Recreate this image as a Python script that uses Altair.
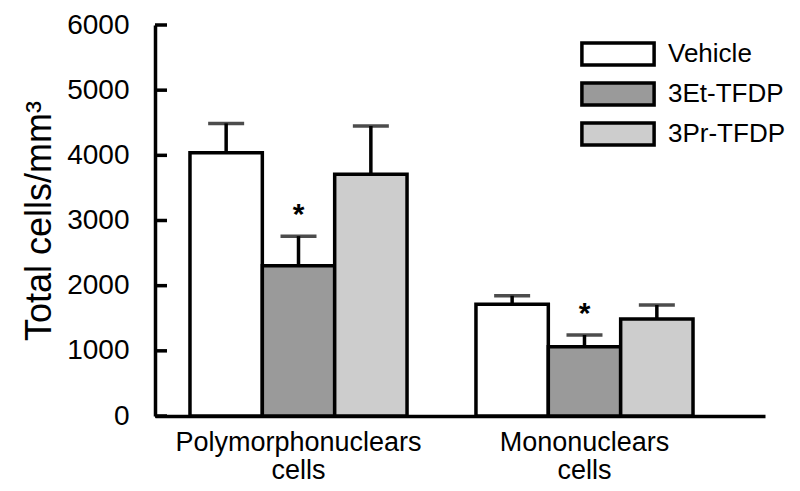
import altair as alt
import pandas as pd

groups = ["Polymorphonuclears|cells", "Mononuclears|cells"]
treatments = ["Vehicle", "3Et-TFDP", "3Pr-TFDP"]
colors = ["#ffffff", "#9a9a9a", "#cdcdcd"]

pmn_mean = [4040, 2305, 3710]
pmn_err = [450, 455, 740]
mono_mean = [1715, 1063, 1488]
mono_err = [130, 180, 215]
pmn_sig = [False, True, False]
mono_sig = [False, True, False]

y_ticks = [0, 1000, 2000, 3000, 4000, 5000, 6000]

rows = []
for g, means, errs, sigs in [(groups[0], pmn_mean, pmn_err, pmn_sig),
                             (groups[1], mono_mean, mono_err, mono_sig)]:
    for t, m, e, s in zip(treatments, means, errs, sigs):
        rows.append({"group": g, "treatment": t, "mean": m, "top": m + e,
                     "sig": s, "star": "*" if s else ""})
df = pd.DataFrame(rows)
ticks_df = pd.DataFrame({"v": y_ticks})

FONT = "Liberation Sans"

x_enc = alt.X("group:N", sort=groups,
              scale=alt.Scale(paddingInner=0.241, paddingOuter=0.187, align=0.327),
              axis=alt.Axis(title=None, labelExpr="split(datum.label, '|')",
                            labelAngle=0, labelFontSize=27, labelFont=FONT,
                            labelColor="black", labelLineHeight=28, labelLimit=500,
                            labelPadding=13, ticks=False, labelBaseline="top",
                            domainColor="black", domainWidth=3.5))
xo_enc = alt.XOffset("treatment:N", sort=treatments,
                     scale=alt.Scale(paddingInner=0, paddingOuter=0))
y_scale = alt.Scale(domain=[0, 6000], nice=False)

base = alt.Chart(df)

bars = base.mark_bar(stroke="black", strokeWidth=3.5, opacity=1).encode(
    x=x_enc,
    xOffset=xo_enc,
    y=alt.Y("mean:Q", scale=y_scale,
            axis=alt.Axis(title="Total cells/mm³", titleFontSize=36, titleFont=FONT,
                          titleFontWeight="normal", titleColor="black", titlePadding=8,
                          values=y_ticks, format="d", labelFontSize=28, labelFont=FONT,
                          labelColor="black", labelPadding=26, ticks=False,
                          grid=False, domainColor="black", domainWidth=3.5)),
    fill=alt.Fill("treatment:N", sort=treatments,
                  scale=alt.Scale(domain=treatments, range=colors),
                  legend=alt.Legend(title=None, orient="none", legendX=442, legendY=8,
                                    symbolType="M-1.9,-0.58H1.9V0.58H-1.9Z",
                                    symbolSize=1444, symbolStrokeColor="black",
                                    symbolStrokeWidth=3.5, symbolOpacity=1,
                                    labelFontSize=26, labelFont=FONT, labelColor="black",
                                    labelOffset=29, rowPadding=0, padding=0,
                                    labelLimit=300)),
)

err = base.mark_rule(color="black", strokeWidth=3.5).encode(
    x=alt.X("group:N", sort=groups), xOffset=xo_enc,
    y=alt.Y("mean:Q", scale=y_scale), y2="top:Q")

caps = base.mark_tick(color="black", thickness=3.5, size=36, orient="horizontal").encode(
    x=alt.X("group:N", sort=groups), xOffset=xo_enc,
    y=alt.Y("top:Q", scale=y_scale))

stars = base.transform_filter("datum.sig").mark_text(
    fontSize=30, font=FONT, fontWeight="bold", color="black", dy=-12,
    baseline="alphabetic").encode(
    x=alt.X("group:N", sort=groups), xOffset=xo_enc,
    y=alt.Y("top:Q", scale=y_scale), text="star:N")

yticks = alt.Chart(ticks_df).mark_rule(color="black", strokeWidth=3.5).encode(
    y=alt.Y("v:Q", scale=y_scale), x=alt.value(0), x2=alt.value(12))

chart = alt.layer(bars, err, caps, stars, yticks).properties(
    width=610, height=391,
    autosize=alt.AutoSizeParams(type="none"),
    padding={"left": 147, "top": 17, "right": 27, "bottom": 67},
    background="white",
).configure_view(stroke=None)

chart.save("out.html", embed_options={"renderer": "svg", "actions": False})
